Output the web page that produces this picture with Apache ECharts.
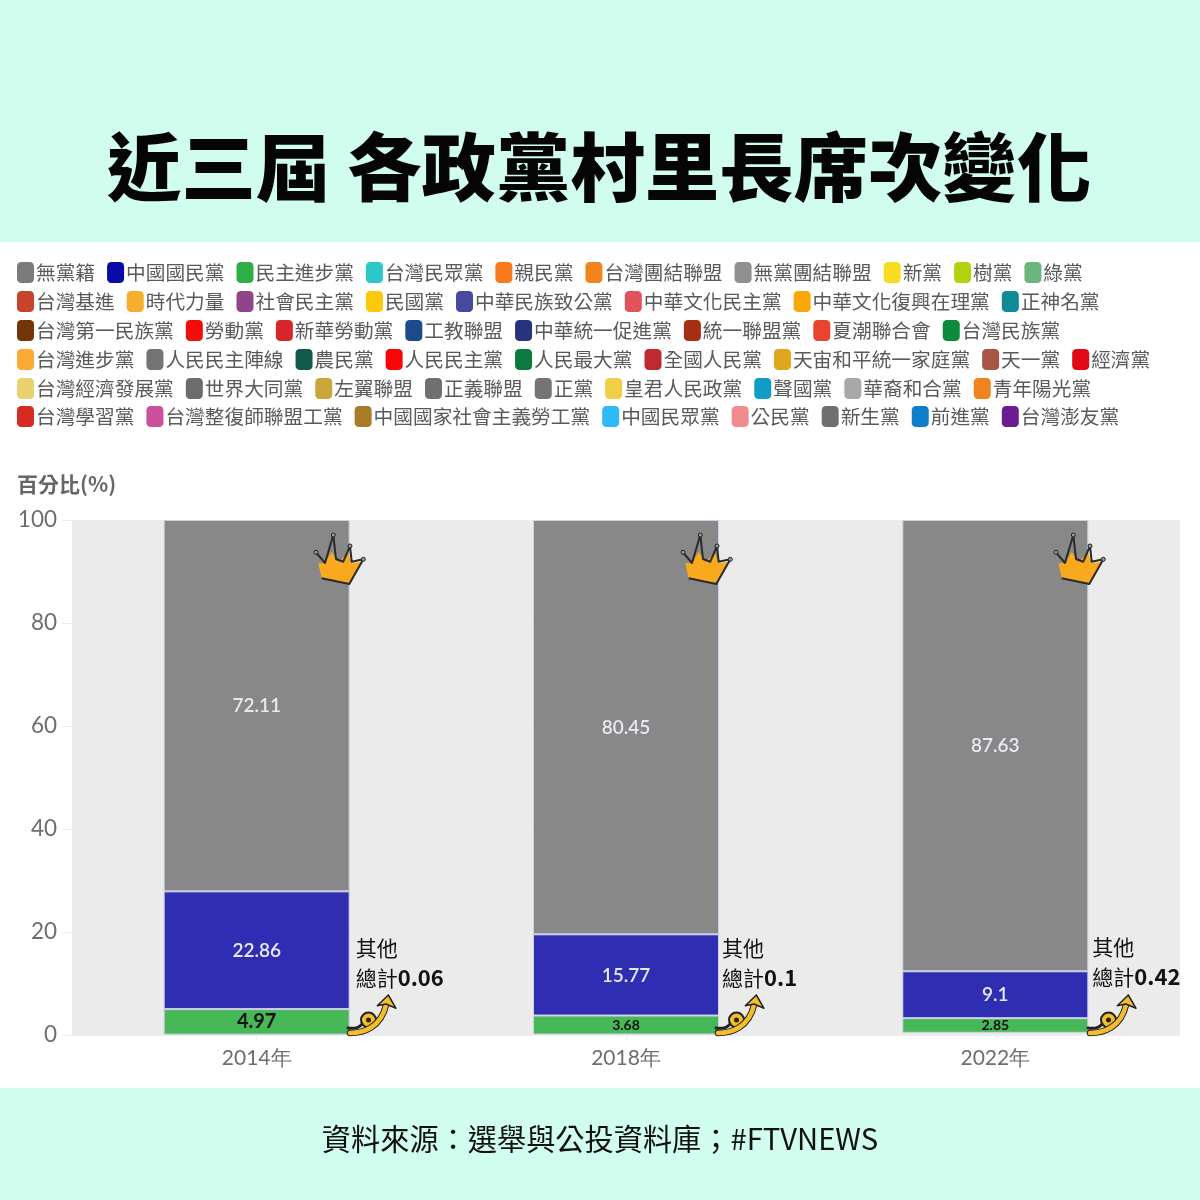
<!DOCTYPE html>
<html><head><meta charset="utf-8"><style>html,body{margin:0;padding:0;background:#fff}#c{width:1200px;height:1200px}</style>
<script src="https://cdn.jsdelivr.net/npm/echarts@6/dist/echarts.min.js"></script></head>
<body><div id="c"></div><script>
const years=['2014年','2018年','2022年'];
const independent=[72.11,80.45,87.63];
const kmt=[22.86,15.77,9.1];
const dpp=[4.97,3.68,2.85];
const others=[0.06,0.1,0.42];
const dppLabelSizes=[20,14,14];
const noteShift=[0,-3,-2];
const legendRows=[
 ['無黨籍','中國國民黨','民主進步黨','台灣民眾黨','親民黨','台灣團結聯盟','無黨團結聯盟','新黨','樹黨','綠黨'],
 ['台灣基進','時代力量','社會民主黨','民國黨','中華民族致公黨','中華文化民主黨','中華文化復興在理黨','正神名黨'],
 ['台灣第一民族黨','勞動黨','新華勞動黨','工教聯盟','中華統一促進黨','統一聯盟黨','夏潮聯合會','台灣民族黨'],
 ['台灣進步黨','人民民主陣線','農民黨','人民民主黨','人民最大黨','全國人民黨','天宙和平統一家庭黨','天一黨','經濟黨'],
 ['台灣經濟發展黨','世界大同黨','左翼聯盟','正義聯盟','正黨','皇君人民政黨','聲國黨','華裔和合黨','青年陽光黨'],
 ['台灣學習黨','台灣整復師聯盟工黨','中國國家社會主義勞工黨','中國民眾黨','公民黨','新生黨','前進黨','台灣澎友黨']];
const legendColors=[
 ['#7b7b7b','#0a0aa8','#2fae45','#2cc8c8','#f97a1c','#f0851f','#8f8f8f','#f7dc24','#b0d20f','#6cb57f'],
 ['#c9432c','#f5ae2e','#8f448c','#fcc80a','#46499f','#e0535a','#f9a80a','#118a98'],
 ['#733408','#f20c0c','#d7272c','#1d4a88','#28337f','#a52f15','#e8452f','#0d8a3c'],
 ['#fbab35','#747474','#115a4a','#f60808','#0a7a3e','#bd2b30','#e0a71e','#a85545','#e00a16'],
 ['#e8d270','#6c6c6c','#c8a63a','#707070','#747474','#f0cf48','#109cc4','#a8a8a8','#f08220'],
 ['#d72b22','#cc4f9c','#a87c28','#2fb9f9','#f08c90','#6f6f6f','#0f7fcb','#6a1c90']];
const mainColors={'無黨籍':'#888888','中國國民黨':'#2f2eb3','民主進步黨':'#47b858'};
const valueByParty={'無黨籍':independent,'中國國民黨':kmt,'民主進步黨':dpp};
const legendTops=[262,291,320,349,378,406];
const crownX=[314,681,1054];
const arrowX=[348,716,1088];

const lavender='#cfcfe6';
const numFont='Lato, "Open Sans", sans-serif';
const series=[];
const base={type:'bar',stack:'t',barWidth:186,animation:false,
  itemStyle:{borderColor:lavender,borderWidth:1}};
series.push({...base,name:'其他',
  data:others.map((v,i)=>({value:v,label:{offset:[noteShift[i],-72]}})),
  itemStyle:{color:'#ebebeb',borderWidth:0},
  label:{show:true,position:'right',distance:6,align:'left',
    formatter:p=>'{a|其他}\n{a|總計}{b|'+p.value+'}',
    rich:{a:{fontFamily:'Noto Sans CJK TC',fontSize:21,color:'#111',lineHeight:30},
          b:{fontFamily:'Noto Sans CJK TC',fontWeight:'bold',fontSize:22,color:'#111',lineHeight:30}}}});
['民主進步黨','中國國民黨','無黨籍'].forEach(n=>{
  const isDpp=n==='民主進步黨';
  series.push({...base,name:n,
    data:valueByParty[n].map((v,i)=>isDpp?{value:v,label:{fontSize:dppLabelSizes[i]}}:v),
    itemStyle:{...base.itemStyle,color:mainColors[n]},
    label:{show:true,position:'inside',offset:[0,isDpp?0:0.5],fontFamily:numFont,
      fontSize:isDpp?14:19,fontWeight:isDpp?'bold':600,color:isDpp?'#111':'#e8e8f2'}});
});
legendRows.forEach((row,r)=>row.forEach((n,i)=>{
  if(!valueByParty[n]) series.push({...base,name:n,data:[],itemStyle:{color:legendColors[r][i]}});
}));
const colorOf={};
legendRows.forEach((row,r)=>row.forEach((n,i)=>colorOf[n]=legendColors[r][i]));

const legend=legendRows.map((row,r)=>({
  left:17,top:legendTops[r],orient:'horizontal',padding:0,width:1180,
  itemWidth:17,itemHeight:21,itemGap:12,selectedMode:false,
  data:row.map(n=>({name:n,icon:'roundRect',itemStyle:{color:colorOf[n],borderWidth:0}})),
  textStyle:{fontFamily:'Noto Sans CJK TC',fontSize:19.7,color:'#5a5a5a',padding:[3,0,0,-3]}
}));

const crownBody=[[4.3,30.3],[11,30],[17.7,18.7],[24.3,28.7],[34.3,20.3],[37.7,30.3],[47.7,28.7],[36,50.3],[7.7,45.3]];
const crownLine=[[2,19.3],[11,30],[19.3,2],[22,26],[29.3,28.7],[36,13],[37.7,28.7],[49.3,26.3],[35.3,51],[7.7,45.3]];
const graphic=[
 {type:'rect',z:-10,shape:{x:0,y:0,width:1200,height:242},style:{fill:'#d1fdef'}},
 {type:'rect',z:-10,shape:{x:0,y:1088,width:1200,height:112},style:{fill:'#d1fdef'}},
 {type:'text',x:107,y:130,style:{text:'近三屆 各政黨村里長席次變化',fontFamily:'Noto Sans CJK TC',fontWeight:900,fontSize:74.4,fill:'#050505'}},
 {type:'text',x:600,y:1124,style:{text:'資料來源\uFF1A選舉與公投資料庫\uFF1B#FTVNEWS',align:'center',fontFamily:'Noto Sans CJK TC',fontSize:29.2,fill:'#111'}},
 {type:'text',x:17,y:474,style:{text:'百分比(%)',fontFamily:'Noto Sans CJK TC',fontWeight:'bold',fontSize:21,fill:'#666'}}
];
crownX.forEach(x=>{
 const y=533;
 graphic.push({type:'polygon',z:50,shape:{points:crownBody.map(p=>[x+p[0],y+p[1]])},style:{fill:'#f8a91d'}});
 graphic.push({type:'polyline',z:51,shape:{points:crownLine.map(p=>[x+p[0],y+p[1]])},style:{fill:'none',stroke:'#2a2a2a',lineWidth:2,lineJoin:'round'}});
 [[2,19.3],[19.3,2],[36,13],[49.3,26.3]].forEach(p=>graphic.push({type:'circle',z:52,shape:{cx:x+p[0],cy:y+p[1],r:2},style:{fill:'#999',stroke:'#222',lineWidth:1}}));
});
arrowX.forEach(x=>{
 const y=995;
 graphic.push({type:'circle',z:50,shape:{cx:x+20.5,cy:y+25,r:7.5},style:{fill:'#f2be2c',stroke:'#222',lineWidth:2}});
 graphic.push({type:'circle',z:51,shape:{cx:x+20.5,cy:y+25,r:2.5},style:{fill:'#222'}});
 graphic.push({type:'bezierCurve',z:51,shape:{x1:x,y1:y+33,cpx1:x+7,cpy1:y+34,cpx2:x+12,cpy2:y+32,x2:x+14,y2:y+29},style:{fill:'none',stroke:'#222',lineWidth:3,lineCap:'round'}});
 graphic.push({type:'bezierCurve',z:52,shape:{x1:x+2,y1:y+38,cpx1:x+16,cpy1:y+38,cpx2:x+33,cpy2:y+32,x2:x+38,y2:y+10},style:{fill:'none',stroke:'#222',lineWidth:6.5,lineCap:'round'}});
 graphic.push({type:'bezierCurve',z:53,shape:{x1:x+2,y1:y+38,cpx1:x+16,cpy1:y+38,cpx2:x+33,cpy2:y+32,x2:x+38,y2:y+10},style:{fill:'none',stroke:'#f2be2c',lineWidth:4.5,lineCap:'round'}});
 graphic.push({type:'polygon',z:54,shape:{points:[[x+40.3,y],[x+29.3,y+10.7],[x+38,y+9],[x+48,y+13.3]]},style:{fill:'#f2be2c',stroke:'#222',lineWidth:1.5,lineJoin:'round'}});
});

const chart=echarts.init(document.getElementById('c'),null,{renderer:'canvas'});
chart.setOption({
 animation:false,backgroundColor:'#fff',legend,graphic,series,
 grid:{left:72,right:20,top:520,bottom:165,show:true,backgroundColor:'#ebebeb',borderWidth:0},
 xAxis:{type:'category',data:years,axisLine:{show:false},
   axisTick:{show:true,alignWithLabel:true,length:6,lineStyle:{color:'#eeeeee'}},
   axisLabel:{fontFamily:numFont,fontSize:21,color:'#6e6e6e',margin:13}},
 yAxis:{type:'value',min:0,max:100,interval:20,axisLine:{show:false},
   axisTick:{show:true,length:10,lineStyle:{color:'#ececec'}},
   splitLine:{lineStyle:{color:'#eeeeee',width:1}},
   axisLabel:{fontFamily:numFont,fontSize:22.5,color:'#6e6e6e',margin:15,padding:[3,0,0,0]}}
});
</script></body></html>
